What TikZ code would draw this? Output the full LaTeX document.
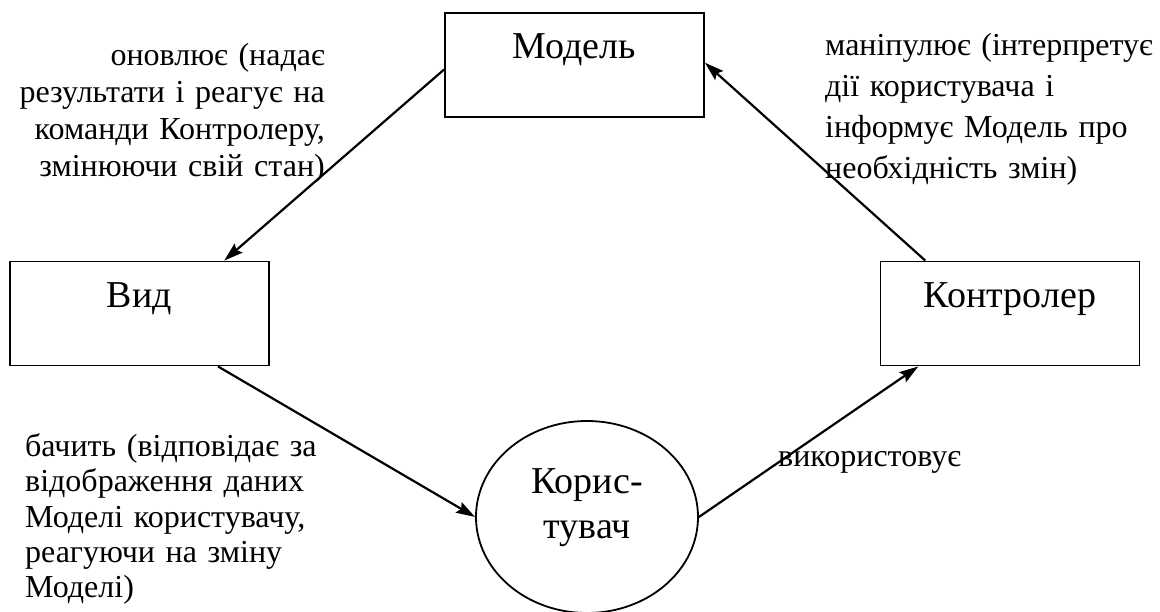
\documentclass[tikz,border=0pt]{standalone}
\usepackage{fontspec}
\setmainfont{Liberation Serif}
\usetikzlibrary{arrows.meta,shapes.geometric}
\begin{document}
\begin{tikzpicture}[x=1pt,y=-1pt,
  box/.style={draw,line width=1.9pt,rectangle,minimum width=259pt,minimum height=104pt,inner sep=0pt,text height=26pt,text depth=38pt,font=\fontsize{38}{44}\selectfont},
  usershape/.style={draw,line width=1.8pt,ellipse,minimum width=222pt,minimum height=192pt,inner sep=0pt},
  conn/.style={line width=2.2pt,-{Stealth[length=19pt,width=12pt,inset=3pt]}},
  lbl/.style={inner sep=0pt,font=\fontsize{32}{37}\selectfont}]
\useasboundingbox (0,0) rectangle (1160,612);
\fill[white] (0,0) rectangle (1160,612);
% nodes
\node[box] (model) at (574.5,65) {Модель};
\node[box] (view) at (139.5,313.5) {Вид};
\node[box] (ctrl) at (1010,313.5) {Контролер};
\node[usershape] (user) at (587,517) {};
\node[inner sep=0pt,align=center,font=\fontsize{38}{45}\selectfont] (usertext) at (587,508) {Корис-\\тувач};
% labels
\node[lbl,text width=320pt,align=right,anchor=base east] (lupd) at (325,66)
  {оновлює (надає\\результати і реагує на\\команди Контролеру,\\змінюючи свій стан)};
\node[lbl,text width=400pt,align=left,anchor=base west,font=\fontsize{32}{40.7}\selectfont] (lman) at (825,56)
  {маніпулює (інтерпретує\\дії користувача і\\інформує Модель про\\необхідність змін)};
\node[lbl,text width=400pt,align=left,anchor=base west,font=\fontsize{32}{35.5}\selectfont] (lsee) at (25,456)
  {бачить (відповідає за\\відображення даних\\Моделі користувачу,\\реагуючи на зміну\\Моделі)};
\node[lbl,anchor=base west] (luse) at (778,466) {використовує};
% connectors
\draw[conn] (model.182.2) -- (view.32.6);
\draw[conn] (view.-34.3) -- (user.west);
\draw[conn] (user.east) -- (ctrl.210.3);
\draw[conn] (ctrl.148.8) -- (model.1.3);
\end{tikzpicture}
\end{document}
